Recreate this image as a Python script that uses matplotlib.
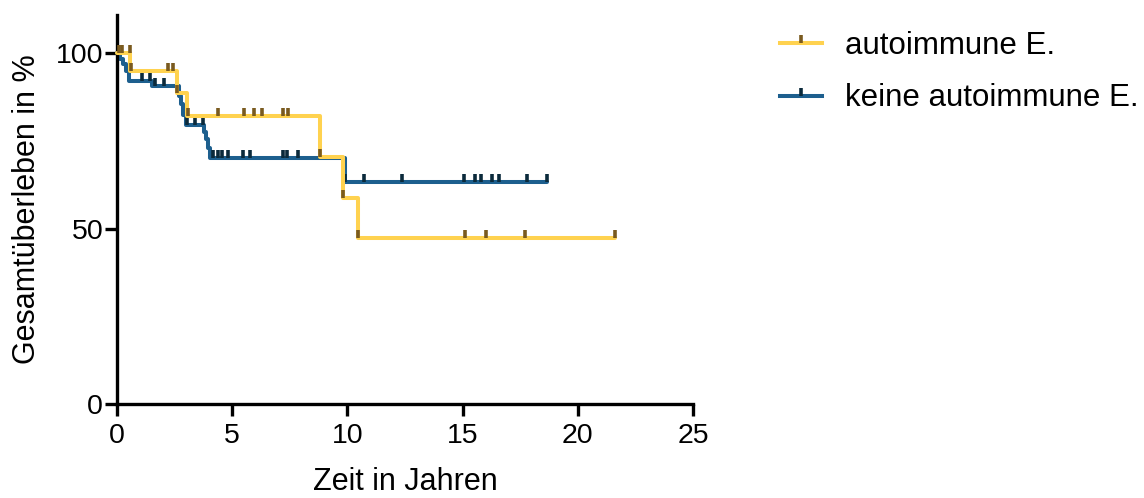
#!/usr/bin/env python3
# -*- coding: utf-8 -*-
"""
Kaplan-Meier Gesamtüberleben: autoimmune E. vs. keine autoimmune E.
"""

import numpy as np
import matplotlib
matplotlib.use('Agg')
import matplotlib.pyplot as plt

plt.rcParams['font.family'] = ['Liberation Sans', 'DejaVu Sans']

# Stufen der Überlebenskurven (Zeit in Jahren, Überleben in %)
auto_t = [0, 0.58, 2.6, 3.05, 8.8, 9.82, 10.45, 21.6]
auto_s = [100, 94.9, 88.6, 82.1, 70.4, 58.9, 47.4, 47.4]
auto_cens = [0.1, 0.22, 0.55, 0.6, 2.2, 2.43, 2.6, 3.1, 4.38, 5.5, 5.95,
             6.3, 7.2, 7.4, 8.8, 9.82, 10.45, 15.1, 16.0, 17.7, 21.6]

keine_t = [0, 0.12, 0.25, 0.38, 0.5, 1.5, 2.68, 2.78, 2.88, 2.98, 3.76,
           3.86, 3.95, 4.05, 9.88, 18.65]
keine_s = [100, 98.5, 97.0, 95.0, 92.2, 90.7, 88.0, 85.5, 82.5, 79.5, 77.5,
           75.5, 73.0, 70.3, 63.2, 63.2]
keine_cens = [1.07, 1.45, 1.65, 2.03, 3.02, 3.39, 3.74, 4.18, 4.37, 4.54,
              4.82, 5.47, 5.76, 7.21, 7.38, 7.86, 9.9, 10.7, 12.35, 15.07,
              15.54, 15.78, 16.29, 16.57, 17.8, 18.65]

labels = ['autoimmune E.', 'keine autoimmune E.']
x_ticks = [0, 5, 10, 15, 20, 25]
y_ticks = [0, 50, 100]

COL_AUTO = '#FFD24F'
COL_AUTO_CENS = '#7A5A1F'
COL_KEINE = '#1D5F8E'
COL_KEINE_CENS = '#0B2A3B'

LW = 2.9
CENS_SIZE = 5.5
CENS_EW = 2.6


def surv_at(t_steps, s_steps, t):
    """Überleben zum Zeitpunkt t (Stufenfunktion, rechtsstetig)"""
    idx = np.searchsorted(t_steps, t, side='right') - 1
    return np.asarray(s_steps)[idx]


def plot_curve(ax, t, s, cens, col, col_cens, label, z):
    ax.step(t, s, where='post', color=col, lw=LW, zorder=z,
            solid_joinstyle='round', solid_capstyle='round', clip_on=False)
    ax.plot(cens, surv_at(t, s, cens), linestyle='none', marker=2,
            markersize=CENS_SIZE, markeredgewidth=CENS_EW, color=col_cens,
            zorder=z + 0.5, clip_on=False)
    # Legenden-Eintrag: Linie mit Zensur-Strich in der Mitte
    h, = ax.plot([], [], color=col, lw=LW, marker=2, markersize=CENS_SIZE,
                 markeredgewidth=CENS_EW, markeredgecolor=col_cens, label=label)
    return h


fig = plt.figure(figsize=(11.44, 4.98), dpi=100)
ax = fig.add_axes([0.1023, 0.1888, 0.5035, 0.7812])

h1 = plot_curve(ax, auto_t, auto_s, auto_cens, COL_AUTO, COL_AUTO_CENS,
                labels[0], 3)
h2 = plot_curve(ax, keine_t, keine_s, keine_cens, COL_KEINE, COL_KEINE_CENS,
                labels[1], 2)

ax.set_xlim(0, 25)
ax.set_ylim(0, 111)
ax.set_xticks(x_ticks)
ax.set_yticks(y_ticks)

for side in ['top', 'right']:
    ax.spines[side].set_visible(False)
for side in ['left', 'bottom']:
    ax.spines[side].set_linewidth(2.4)
    ax.spines[side].set_color('black')
ax.tick_params(axis='both', length=8.5, width=2.4, labelsize=20.5,
               colors='black')
ax.tick_params(axis='x', pad=5.5)
ax.tick_params(axis='y', pad=1.5)

ax.set_xlabel('Zeit in Jahren', fontsize=22, labelpad=12.5)
ax.set_ylabel('Gesamtüberleben in %', fontsize=22, labelpad=10)

fig.legend(handles=[h1, h2], loc='upper left',
           bbox_to_anchor=(780 / 1144, 1 - 31 / 498), frameon=False,
           fontsize=22.5, numpoints=1, handlelength=1.35, handletextpad=0.74,
           labelspacing=0.72, borderpad=0, borderaxespad=0)

fig.savefig('out.png', dpi=100)
plt.close(fig)
